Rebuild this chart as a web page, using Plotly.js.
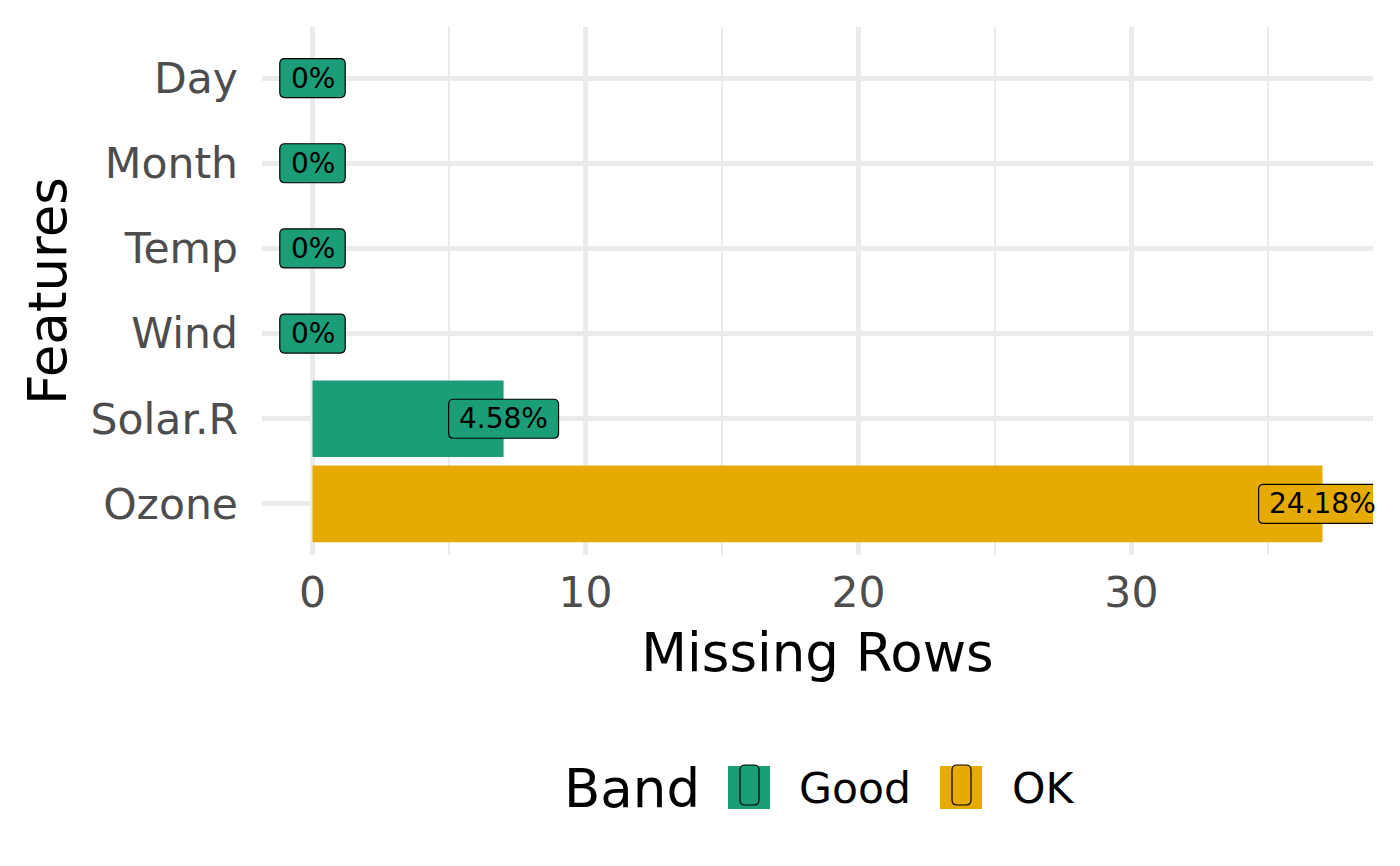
<!DOCTYPE html>
<html>
<head>
<meta charset="utf-8">
<script src="https://cdn.plot.ly/plotly-3.0.1.min.js"></script>
<style>html,body{margin:0;padding:0;background:#fff;}#chart{width:1400px;height:866px;}</style>
</head>
<body>
<div id="chart"></div>
<script>
// ---- data ----
var features = ['Ozone', 'Solar.R', 'Wind', 'Temp', 'Month', 'Day'];
var missingRows = [37, 7, 0, 0, 0, 0];
var missingPct = ['24.18%', '4.58%', '0%', '0%', '0%', '0%'];
var band = ['OK', 'Good', 'Good', 'Good', 'Good', 'Good'];
var bandNames = ['Good', 'OK'];
var bandColors = ['#1B9E77', '#E6AB02'];
var xTicks = [0, 10, 20, 30];

// ---- layout constants ----
var W = 1400, H = 866;
var M = {l: 262, r: 27, t: 27, b: 311};
var FONT = 'DejaVu Sans, Liberation Sans, sans-serif';
var TICK = 42.5, TITLE = 53;
var plotW = W - M.l - M.r, plotH = H - M.t - M.b;
function px(x) { return (x - M.l) / plotW; }
function py(y) { return (H - M.b - y) / plotH; }

var cvs = document.createElement('canvas').getContext('2d');
cvs.font = '28px "DejaVu Sans"';
function textW(s) { return cvs.measureText(s).width; }

function roundRectPath(w, h, r) {
  var a = w / 2, b = h / 2;
  return 'M' + (-a + r) + ',' + (-b) + ' H' + (a - r) + ' Q' + a + ',' + (-b) + ' ' + a + ',' + (-b + r) +
    ' V' + (b - r) + ' Q' + a + ',' + b + ' ' + (a - r) + ',' + b + ' H' + (-a + r) +
    ' Q' + (-a) + ',' + b + ' ' + (-a) + ',' + (b - r) + ' V' + (-b + r) +
    ' Q' + (-a) + ',' + (-b) + ' ' + (-a + r) + ',' + (-b) + ' Z';
}

// ---- traces ----
var traces = bandNames.map(function (bn, k) {
  var ys = [], xs = [];
  features.forEach(function (f, i) { if (band[i] === bn) { ys.push(f); xs.push(missingRows[i]); } });
  return {
    type: 'bar', orientation: 'h', name: bn, x: xs, y: ys, width: 0.9,
    marker: {color: bandColors[k], line: {width: 0}},
    showlegend: false, hoverinfo: 'x+y'
  };
});

// ---- labels: rounded boxes (shapes) + text (annotations) ----
var shapes = [], annotations = [];
features.forEach(function (f, i) {
  var col = bandColors[bandNames.indexOf(band[i])];
  var w = textW(missingPct[i]) + 21, h = 39;
  shapes.push({
    type: 'path', layer: 'above', xref: 'x', yref: 'y',
    xsizemode: 'pixel', ysizemode: 'pixel', xanchor: missingRows[i], yanchor: f,
    path: roundRectPath(w, h, 5),
    fillcolor: col, line: {color: '#000', width: 1.2}
  });
  annotations.push({
    xref: 'x', yref: 'y', x: missingRows[i], y: f, text: missingPct[i], showarrow: false,
    xanchor: 'center', yanchor: 'middle', font: {family: FONT, size: 28, color: '#000'}
  });
});

// ---- legend (custom, drawn in paper space) ----
annotations.push({
  xref: 'paper', yref: 'paper', x: px(562), y: py(788), xanchor: 'left', yanchor: 'middle',
  text: 'Band', showarrow: false, font: {family: FONT, size: TITLE, color: '#000'}
});
var keyX = [728, 940], textX = [797, 1010];
bandNames.forEach(function (bn, k) {
  shapes.push({
    type: 'rect', xref: 'paper', yref: 'paper', layer: 'above',
    x0: px(keyX[k]), x1: px(keyX[k] + 42), y0: py(766), y1: py(809),
    fillcolor: bandColors[k], line: {width: 0}
  });
  shapes.push({
    type: 'path', xref: 'paper', yref: 'paper', layer: 'above',
    xsizemode: 'pixel', ysizemode: 'pixel', xanchor: px(keyX[k] + 21.5), yanchor: py(785),
    path: roundRectPath(19, 40, 5),
    fillcolor: bandColors[k], line: {color: '#000', width: 1.2}
  });
  annotations.push({
    xref: 'paper', yref: 'paper', x: px(textX[k]), y: py(788), xanchor: 'left', yanchor: 'middle',
    text: bn, showarrow: false, font: {family: FONT, size: TICK, color: '#000'}
  });
});

var layout = {
  width: W, height: H,
  margin: M,
  paper_bgcolor: '#fff', plot_bgcolor: '#fff',
  font: {family: FONT, color: '#4D4D4D'},
  barmode: 'overlay',
  showlegend: false,
  xaxis: {
    range: [-1.85, 38.85], tickvals: xTicks, ticktext: xTicks.map(String),
    showgrid: true, gridcolor: '#EBEBEB', gridwidth: 5,
    minor: {dtick: 5, tick0: 0, showgrid: true, gridcolor: '#EBEBEB', gridwidth: 2.6},
    zeroline: false, showline: false, ticks: '',
    tickfont: {family: FONT, size: TICK, color: '#4D4D4D'},
    ticklabelstandoff: 8,
    title: {text: 'Missing Rows', font: {family: FONT, size: TITLE, color: '#000'}, standoff: 18},
    fixedrange: true
  },
  yaxis: {
    type: 'category', categoryorder: 'array', categoryarray: features,
    range: [-0.6, features.length - 0.4],
    showgrid: true, gridcolor: '#EBEBEB', gridwidth: 5,
    zeroline: false, showline: false, ticks: '',
    tickfont: {family: FONT, size: TICK, color: '#4D4D4D'},
    ticklabelstandoff: 23,
    title: {text: 'Features', font: {family: FONT, size: TITLE, color: '#000'}, standoff: 6},
    fixedrange: true
  },
  shapes: shapes,
  annotations: annotations
};

Plotly.newPlot('chart', traces, layout, {displayModeBar: false, staticPlot: true});
</script>
</body>
</html>
